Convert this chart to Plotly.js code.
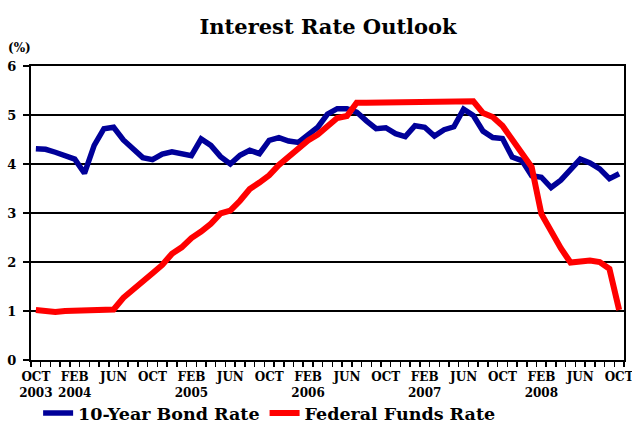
<!DOCTYPE html>
<html>
<head>
<meta charset="utf-8">
<script src="https://cdn.plot.ly/plotly-3.0.1.min.js"></script>
<style>
html,body{margin:0;padding:0;background:#fff;}
#chart{width:632px;height:423px;}
</style>
</head>
<body>
<div id="chart"></div>
<script>
// Monthly categories, Oct 2003 .. Oct 2008
var months = [
  "2003-10","2003-11","2003-12",
  "2004-01","2004-02","2004-03","2004-04","2004-05","2004-06","2004-07","2004-08","2004-09","2004-10","2004-11","2004-12",
  "2005-01","2005-02","2005-03","2005-04","2005-05","2005-06","2005-07","2005-08","2005-09","2005-10","2005-11","2005-12",
  "2006-01","2006-02","2006-03","2006-04","2006-05","2006-06","2006-07","2006-08","2006-09","2006-10","2006-11","2006-12",
  "2007-01","2007-02","2007-03","2007-04","2007-05","2007-06","2007-07","2007-08","2007-09","2007-10","2007-11","2007-12",
  "2008-01","2008-02","2008-03","2008-04","2008-05","2008-06","2008-07","2008-08","2008-09","2008-10"
];

// 10-Year Bond Rate (%)
var bondRate = [
  4.31,4.30,4.24,
  4.17,4.10,3.81,4.38,4.72,4.75,4.49,4.30,4.13,4.09,4.20,4.25,
  4.22,4.17,4.51,4.38,4.15,4.00,4.18,4.28,4.21,4.48,4.54,4.47,
  4.44,4.58,4.75,5.02,5.13,5.13,5.06,4.88,4.72,4.74,4.62,4.56,
  4.78,4.75,4.57,4.70,4.76,5.12,4.99,4.67,4.54,4.52,4.14,4.07,
  3.76,3.73,3.52,3.67,3.87,4.10,4.02,3.90,3.70,3.80
];

// Federal Funds Rate (%)
var fedRate = [
  1.02,0.99,0.98,
  1.00,1.01,1.00,1.01,1.01,1.03,1.27,1.45,1.62,1.77,1.94,2.17,
  2.30,2.49,2.62,2.78,2.99,3.05,3.25,3.49,3.62,3.77,3.98,4.15,
  4.28,4.48,4.60,4.78,4.94,4.98,5.25,5.25,5.25,5.25,5.25,5.25,
  5.26,5.28,5.27,5.25,5.25,5.25,5.28,5.04,4.96,4.78,4.51,4.24,
  3.94,2.98,2.60,2.28,1.99,2.00,2.03,2.00,1.86,1.02
];

// Tick labels (every 4 months)
var tickMonths = ["OCT","FEB","JUN","OCT","FEB","JUN","OCT","FEB","JUN","OCT","FEB","JUN","OCT","FEB","JUN","OCT"];
var tickYears  = ["2003","2004","","","2005","","","2006","","","2007","","","2008","",""];

var seriesNames = ["10-Year Bond Rate","Federal Funds Rate"];

var xIdx = months.map(function(m,i){return i;});
var tickVals = tickMonths.map(function(m,i){return i*4;});
var tickText = tickMonths.map(function(m,i){return tickYears[i] ? m + "<br>" + tickYears[i] : m;});

var FONT = "DejaVu Serif, Liberation Serif, serif";

var traces = [
  {x:xIdx, y:bondRate, name:seriesNames[0], type:"scatter", mode:"lines",
   line:{color:"#000099", width:5.5}},
  {x:xIdx, y:fedRate, name:seriesNames[1], type:"scatter", mode:"lines",
   line:{color:"#ff0000", width:6}}
];

var layout = {
  width:632, height:423,
  paper_bgcolor:"#ffffff", plot_bgcolor:"#ffffff",
  margin:{l:31, r:8, t:66, b:63, autoexpand:false},
  font:{family:FONT, color:"#000", weight:"bold"},
  title:{text:"Interest Rate Outlook", font:{family:FONT, size:21, weight:"bold", color:"#000"},
         x:0.501, xanchor:"center", y:0.936, yanchor:"middle", xref:"paper"},
  showlegend:true,
  legend:{orientation:"h", x:0.012, xanchor:"left", y:-0.181, yanchor:"middle",
          font:{family:FONT, size:17.5, weight:"bold", color:"#000"},
          bgcolor:"rgba(0,0,0,0)", itemwidth:30, traceorder:"normal"},
  xaxis:{
    range:[-0.5, 60.5], showgrid:false, zeroline:false,
    showline:true, linecolor:"#000", linewidth:2, mirror:true,
    tickmode:"array", tickvals:tickVals, ticktext:tickText,
    ticks:"outside", ticklen:5, tickcolor:"rgba(0,0,0,0)",
    ticklabeloverflow:"allow",
    tickfont:{family:FONT, size:12, weight:"bold", color:"#000"},
    minor:{ticks:"outside", ticklen:5, tickwidth:1.5, tickcolor:"#000", tick0:-0.5, dtick:1, showgrid:false}
  },
  yaxis:{
    range:[0,6], dtick:1, tick0:0,
    showgrid:true, gridcolor:"#000", gridwidth:1.5, zeroline:false,
    showline:true, linecolor:"#000", linewidth:2, mirror:true,
    ticks:"outside", ticklen:6, tickwidth:1.5, tickcolor:"#000",
    ticklabelstandoff:4,
    tickfont:{family:FONT, size:13, weight:"bold", color:"#000"}
  },
  annotations:[
    {text:"(%)", xref:"paper", yref:"paper", x:-0.019, y:1.061, xanchor:"center", yanchor:"middle",
     showarrow:false, font:{family:FONT, size:12, weight:"bold", color:"#000"}}
  ]
};

Plotly.newPlot("chart", traces, layout, {displayModeBar:false, staticPlot:true});
</script>
</body>
</html>
